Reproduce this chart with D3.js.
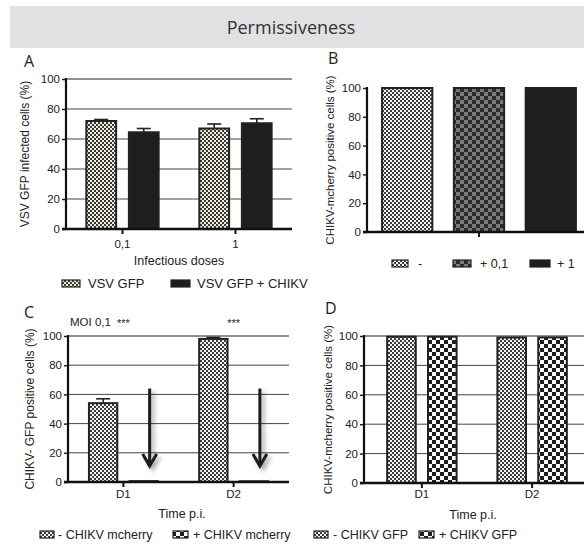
<!DOCTYPE html>
<html><head><meta charset="utf-8">
<script src="https://cdn.jsdelivr.net/npm/d3@7/dist/d3.min.js"></script>
<style>
body{margin:0;background:#fff;}
text{font-family:"Liberation Sans",Arial,sans-serif;fill:#222;}
.seg{font-family:"Open Sans","Noto Sans",sans-serif;}
</style></head>
<body><svg id="c" width="584" height="545"></svg>
<script>
// ---------- data ----------
const yTicks = [0, 20, 40, 60, 80, 100];

const aCategories = ["0,1", "1"];
const aSeries = ["VSV GFP", "VSV GFP + CHIKV"];
const aVsvGfp = [72, 67];
const aVsvGfpErr = [1, 3];
const aVsvChikv = [64.5, 70.5];
const aVsvChikvErr = [2.5, 3];

const bCategories = ["-", "+ 0,1", "+ 1"];
const bValues = [100, 100, 100];

const cCategories = ["D1", "D2"];
const cSeries = ["- CHIKV mcherry", "+ CHIKV mcherry"];
const cMinus = [54, 98];
const cMinusErr = [3, 1];
const cPlus = [0.6, 0.5];
const cArrowFrom = 64, cArrowTo = 11;

const dCategories = ["D1", "D2"];
const dSeries = ["- CHIKV GFP", "+ CHIKV GFP"];
const dMinus = [99.5, 99];
const dPlus = [99.5, 99];

// ---------- setup ----------
const svg = d3.select("#c");
const defs = svg.append("defs");
function checker(id, size, bg, fg) {
  const p = defs.append("pattern").attr("id", id).attr("patternUnits", "userSpaceOnUse")
    .attr("width", size * 2).attr("height", size * 2);
  p.append("rect").attr("width", size * 2).attr("height", size * 2).attr("fill", bg);
  p.append("rect").attr("width", size).attr("height", size).attr("fill", fg);
  p.append("rect").attr("x", size).attr("y", size).attr("width", size).attr("height", size).attr("fill", fg);
}
checker("pCream", 2, "#efebd8", "#3a3a3a");
checker("pFine", 2, "#f4f4f4", "#3c3c3c");
checker("pDark", 4, "#2c2c2c", "#7a7a7a");
checker("pBig", 4, "#ffffff", "#1e1e1e");
const f = defs.append("filter").attr("id", "shadow").attr("x", "-50%").attr("y", "-20%").attr("width", "200%").attr("height", "150%");
f.append("feDropShadow").attr("dx", 3).attr("dy", 3).attr("stdDeviation", 2).attr("flood-color", "#000").attr("flood-opacity", 0.35);

// banner
svg.append("rect").attr("x", 10).attr("y", 6).attr("width", 574).attr("height", 42).attr("fill", "#e1e1e3");
svg.append("text").attr("class", "seg").attr("x", 291).attr("y", 34).attr("text-anchor", "middle")
  .attr("font-size", 18).style("fill", "#333").text("Permissiveness");

function letter(t, x, y) {
  svg.append("text").attr("class", "seg").attr("x", x).attr("y", y).attr("font-size", 16).style("fill", "#222").text(t);
}
letter("A", 24, 67); letter("B", 328, 64); letter("C", 24, 318); letter("D", 325, 314);

function yAxis(g, y, x0, x1, grid, label, lx, lsize) {
  if (grid) {
    g.append("g").selectAll("line").data(yTicks.filter(d => d > 0)).join("line")
      .attr("x1", x0).attr("x2", x1).attr("y1", d => y(d)).attr("y2", d => y(d))
      .attr("stroke", d => d === 100 ? "#222" : "#444").attr("stroke-width", 1);
  }
  const ax = g.append("g").attr("transform", `translate(${x0},0)`)
    .call(d3.axisLeft(y).tickValues(yTicks).tickSize(4).tickPadding(2));
  ax.select(".domain").remove();
  ax.selectAll(".tick line").attr("stroke", "#222").attr("stroke-width", 1.5);
  ax.selectAll(".tick text").attr("font-size", 11.5).style("fill", "#222");
  const [ya, yb] = y.range();
  g.append("text").attr("transform", `translate(${lx},${(ya + yb) / 2}) rotate(-90)`)
    .attr("text-anchor", "middle").attr("font-size", lsize).text(label);
  return ax;
}
function drawAxesLines(g, y, x0, x1, tickXs) {
  g.append("line").attr("x1", x0).attr("x2", x0).attr("y1", y(100) - 1).attr("y2", y(0) + 1)
    .attr("stroke", "#111").attr("stroke-width", 2.2);
  g.append("line").attr("x1", x0 - 4).attr("x2", x1).attr("y1", y(0)).attr("y2", y(0))
    .attr("stroke", "#111").attr("stroke-width", 2.4);
  g.append("g").selectAll("line").data(tickXs).join("line")
    .attr("x1", d => d).attr("x2", d => d).attr("y1", y(0)).attr("y2", y(0) + 5)
    .attr("stroke", "#111").attr("stroke-width", 2);
}
function bars(g, data, fill) {
  g.append("g").selectAll("rect").data(data).join("rect")
    .attr("x", d => d.x).attr("y", d => d.y).attr("width", d => d.w).attr("height", d => d.h)
    .attr("fill", fill).attr("stroke", "#222").attr("stroke-width", 2);
}
function errs(g, data) {
  const e = g.append("g").attr("stroke", "#222").attr("stroke-width", 1.6);
  data.forEach(d => {
    e.append("line").attr("x1", d.cx).attr("x2", d.cx).attr("y1", d.y0).attr("y2", d.y1);
    e.append("line").attr("x1", d.cx - 7).attr("x2", d.cx + 7).attr("y1", d.y1).attr("y2", d.y1);
  });
}
function legendItem(x, y, w, fill, label, tx, fs) {
  svg.append("rect").attr("x", x).attr("y", y).attr("width", w).attr("height", 7)
    .attr("fill", fill).attr("stroke", "#222").attr("stroke-width", 1.2);
  svg.append("text").attr("x", tx).attr("y", y + 8).attr("font-size", fs || 12.5).text(label);
}

// ---------- Panel A ----------
{
  const g = svg.append("g");
  const y = d3.scaleLinear().domain([0, 100]).range([229, 79]);
  const x0 = d3.scaleBand().domain(aCategories).range([66, 292]).paddingInner(0.36).paddingOuter(0.18);
  const x1 = d3.scaleBand().domain(aSeries).range([0, x0.bandwidth()]).paddingInner(0.3);
  yAxis(g, y, 66, 292, true, "VSV GFP infected cells (%)", 29, 12);
  const s1 = aCategories.map((c, i) => ({x: x0(c) + x1(aSeries[0]), w: x1.bandwidth(), y: y(aVsvGfp[i]), h: y(0) - y(aVsvGfp[i])}));
  const s2 = aCategories.map((c, i) => ({x: x0(c) + x1(aSeries[1]), w: x1.bandwidth(), y: y(aVsvChikv[i]), h: y(0) - y(aVsvChikv[i])}));
  errs(g, s1.map((d, i) => ({cx: d.x + d.w / 2, y0: d.y, y1: y(aVsvGfp[i] + aVsvGfpErr[i])})));
  errs(g, s2.map((d, i) => ({cx: d.x + d.w / 2, y0: d.y, y1: y(aVsvChikv[i] + aVsvChikvErr[i])})));
  bars(g, s1, "url(#pCream)");
  bars(g, s2, "#1e1e1e");
  drawAxesLines(g, y, 66, 292, aCategories.map(c => x0(c) + x0.bandwidth() / 2));
  g.append("g").selectAll("text").data(aCategories).join("text")
    .attr("x", c => x0(c) + x0.bandwidth() / 2).attr("y", 248).attr("text-anchor", "middle").attr("font-size", 11.5).text(c => c);
  g.append("text").attr("x", 179).attr("y", 265).attr("text-anchor", "middle").attr("font-size", 12.5).text("Infectious doses");
  legendItem(62, 280, 18, "url(#pCream)", aSeries[0], 88, 13);
  legendItem(171, 280, 19, "#1e1e1e", aSeries[1], 197, 13);
}

// ---------- Panel B ----------
{
  const g = svg.append("g");
  const y = d3.scaleLinear().domain([0, 100]).range([232, 88]);
  const x = d3.scaleBand().domain(bCategories).range([367, 591]).paddingInner(0.3).paddingOuter(0.21);
  yAxis(g, y, 367, 584, false, "CHIKV-mcherry positive cells (%)", 334, 11.5);
  const fills = ["url(#pFine)", "url(#pDark)", "#1e1e1e"];
  bCategories.forEach((c, i) => {
    bars(g, [{x: x(c), w: x.bandwidth(), y: y(bValues[i]), h: y(0) - y(bValues[i])}], fills[i]);
  });
  drawAxesLines(g, y, 367, 584, [x(bCategories[1]) + x.bandwidth() / 2]);
  legendItem(392, 260, 16, fills[0], bCategories[0], 418);
  legendItem(453, 260, 18, fills[1], bCategories[1], 480);
  legendItem(530, 260, 20, fills[2], bCategories[2], 557);
}

// ---------- Panel C ----------
{
  const g = svg.append("g");
  const y = d3.scaleLinear().domain([0, 100]).range([482, 336]);
  const x0 = d3.scaleBand().domain(cCategories).range([68, 289]).paddingInner(0.375).paddingOuter(0.19);
  const x1 = d3.scaleBand().domain(cSeries).range([0, x0.bandwidth()]).paddingInner(0.3);
  yAxis(g, y, 68, 289, true, "CHIKV- GFP positive cells (%)", 34, 12);
  const s1 = cCategories.map((c, i) => ({x: x0(c) + x1(cSeries[0]), w: x1.bandwidth(), y: y(cMinus[i]), h: y(0) - y(cMinus[i])}));
  const s2 = cCategories.map((c, i) => ({x: x0(c) + x1(cSeries[1]), w: x1.bandwidth(), y: y(cPlus[i]), h: y(0) - y(cPlus[i])}));
  errs(g, s1.map((d, i) => ({cx: d.x + d.w / 2, y0: d.y, y1: y(cMinus[i] + cMinusErr[i])})));
  bars(g, s1, "url(#pFine)");
  bars(g, s2, "url(#pBig)");
  drawAxesLines(g, y, 68, 289, cCategories.map(c => x0(c) + x0.bandwidth() / 2));
  // arrows
  const ar = g.append("g").attr("filter", "url(#shadow)").attr("stroke", "#1a1a1a").attr("stroke-width", 3).attr("fill", "none");
  s2.forEach(d => {
    const cx = d.x + d.w / 2 + 6;
    ar.append("line").attr("x1", cx).attr("x2", cx).attr("y1", y(cArrowFrom)).attr("y2", y(cArrowTo));
    ar.append("path").attr("d", `M${cx - 7},${y(cArrowTo) - 12}L${cx},${y(cArrowTo)}L${cx + 7},${y(cArrowTo) - 12}`)
      .attr("stroke-linejoin", "miter");
  });
  g.append("g").selectAll("text").data(cCategories).join("text")
    .attr("x", c => x0(c) + x0.bandwidth() / 2).attr("y", 498).attr("text-anchor", "middle").attr("font-size", 11.5).text(c => c);
  g.append("text").attr("x", 182).attr("y", 518).attr("text-anchor", "middle").attr("font-size", 12.5).text("Time p.i.");
  g.append("text").attr("x", 70).attr("y", 326).attr("font-size", 11.5).text("MOI 0,1");
  g.append("g").selectAll("text").data(cCategories).join("text")
    .attr("x", c => x0(c) + x0.bandwidth() / 2).attr("y", 327).attr("text-anchor", "middle").attr("font-size", 11).text("***");
  legendItem(40, 531, 14, "url(#pFine)", cSeries[0], 58);
  legendItem(173, 531, 15, "url(#pBig)", cSeries[1], 193);
}

// ---------- Panel D ----------
{
  const g = svg.append("g");
  const y = d3.scaleLinear().domain([0, 100]).range([483, 336]);
  const x0 = d3.scaleBand().domain(dCategories).range([364, 590]).paddingInner(0.37).paddingOuter(0.21);
  const x1 = d3.scaleBand().domain(dSeries).range([0, x0.bandwidth()]).paddingInner(0.3);
  yAxis(g, y, 364, 584, true, "CHIKV-mcherry positive cells (%)", 332, 11.5);
  const s1 = dCategories.map((c, i) => ({x: x0(c) + x1(dSeries[0]), w: x1.bandwidth(), y: y(dMinus[i]), h: y(0) - y(dMinus[i])}));
  const s2 = dCategories.map((c, i) => ({x: x0(c) + x1(dSeries[1]), w: x1.bandwidth(), y: y(dPlus[i]), h: y(0) - y(dPlus[i])}));
  bars(g, s1, "url(#pFine)");
  bars(g, s2, "url(#pBig)");
  drawAxesLines(g, y, 364, 584, dCategories.map(c => x0(c) + x0.bandwidth() / 2));
  g.append("g").selectAll("text").data(dCategories).join("text")
    .attr("x", c => x0(c) + x0.bandwidth() / 2).attr("y", 498).attr("text-anchor", "middle").attr("font-size", 11.5).text(c => c);
  g.append("text").attr("x", 473).attr("y", 519).attr("text-anchor", "middle").attr("font-size", 12.5).text("Time p.i.");
  legendItem(314, 531, 14, "url(#pFine)", dSeries[0], 333);
  legendItem(419, 531, 15, "url(#pBig)", dSeries[1], 439);
}
</script></body></html>
